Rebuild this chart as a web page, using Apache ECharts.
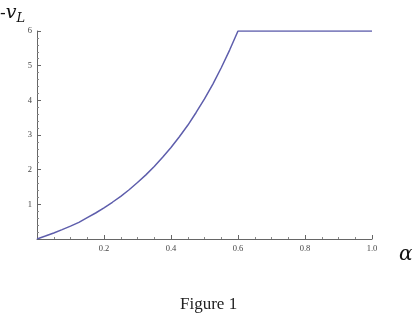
<!DOCTYPE html>
<html>
<head>
<meta charset="utf-8">
<script src="https://cdn.jsdelivr.net/npm/echarts@6/dist/echarts.min.js"></script>
<style>html,body{margin:0;padding:0;background:#fff;}#c{width:414px;height:332px;}</style>
</head>
<body>
<div id="c"></div>
<script>
const alphaValues = [0, 0.025, 0.05, 0.075, 0.1, 0.125, 0.15, 0.175, 0.2, 0.225, 0.25, 0.275, 0.3, 0.325, 0.35, 0.375, 0.4, 0.425, 0.45, 0.475, 0.5, 0.525, 0.55, 0.575, 0.6, 1.0];
const vLValues = [0, 0.085, 0.175, 0.27, 0.37, 0.48, 0.615, 0.75, 0.90, 1.06, 1.23, 1.42, 1.63, 1.85, 2.09, 2.36, 2.64, 2.95, 3.28, 3.65, 4.04, 4.47, 4.94, 5.45, 6.0, 6.0];
const xTickLabels = ['0.2', '0.4', '0.6', '0.8', '1.0'];
const yTickLabels = ['1', '2', '3', '4', '5', '6'];

const chart = echarts.init(document.getElementById('c'), null, {renderer: 'canvas'});
const labelFont = {fontFamily: 'Liberation Serif', fontSize: 8.5, color: '#444'};
chart.setOption({
  animation: false,
  backgroundColor: '#fff',
  grid: {left: 37, right: 42, top: 31, bottom: 93, containLabel: false},
  xAxis: {
    type: 'value', min: 0, max: 1, interval: 0.2,
    axisLine: {show: true, lineStyle: {color: '#666', width: 1}},
    axisTick: {show: true, inside: true, length: 4, lineStyle: {color: '#666'}},
    minorTick: {show: true, splitNumber: 4, length: 2, lineStyle: {color: '#888'}},
    splitLine: {show: false},
    axisLabel: Object.assign({margin: 5, showMinLabel: false,
      formatter: v => { const s = v.toFixed(1); return xTickLabels.includes(s) ? s : ''; }}, labelFont)
  },
  yAxis: {
    type: 'value', min: 0, max: 6, interval: 1,
    axisLine: {show: true, lineStyle: {color: '#666', width: 1}},
    axisTick: {show: true, inside: true, length: 4, lineStyle: {color: '#666'}},
    minorTick: {show: true, splitNumber: 5, length: 2, lineStyle: {color: '#888'}},
    splitLine: {show: false},
    axisLabel: Object.assign({margin: 5,
      formatter: v => { const s = String(Math.round(v)); return yTickLabels.includes(s) ? s : ''; }}, labelFont)
  },
  series: [{
    type: 'line',
    data: alphaValues.map((a, i) => [a, vLValues[i]]),
    showSymbol: false,
    smooth: false,
    lineStyle: {color: '#5e5eac', width: 1.5}
  }],
  graphic: [
    {type: 'text', left: 0, top: 4, style: {
      text: '{a|-}{b|v}{c|L}',
      rich: {
        a: {fontFamily: 'DejaVu Serif', fontSize: 17, fill: '#111'},
        b: {fontFamily: 'DejaVu Serif', fontStyle: 'italic', fontSize: 19, fill: '#111'},
        c: {fontFamily: 'DejaVu Serif', fontStyle: 'italic', fontSize: 13, fill: '#111', padding: [10, 0, 0, 0]}
      }
    }},
    {type: 'text', left: 399, top: 245, style: {text: 'α', fontFamily: 'DejaVu Serif', fontStyle: 'italic', fontSize: 20, fill: '#111'}},
    {type: 'text', left: 180, top: 296, style: {text: 'Figure 1', fontFamily: 'Liberation Serif', fontSize: 17, fill: '#222'}}
  ]
});
</script>
</body>
</html>
